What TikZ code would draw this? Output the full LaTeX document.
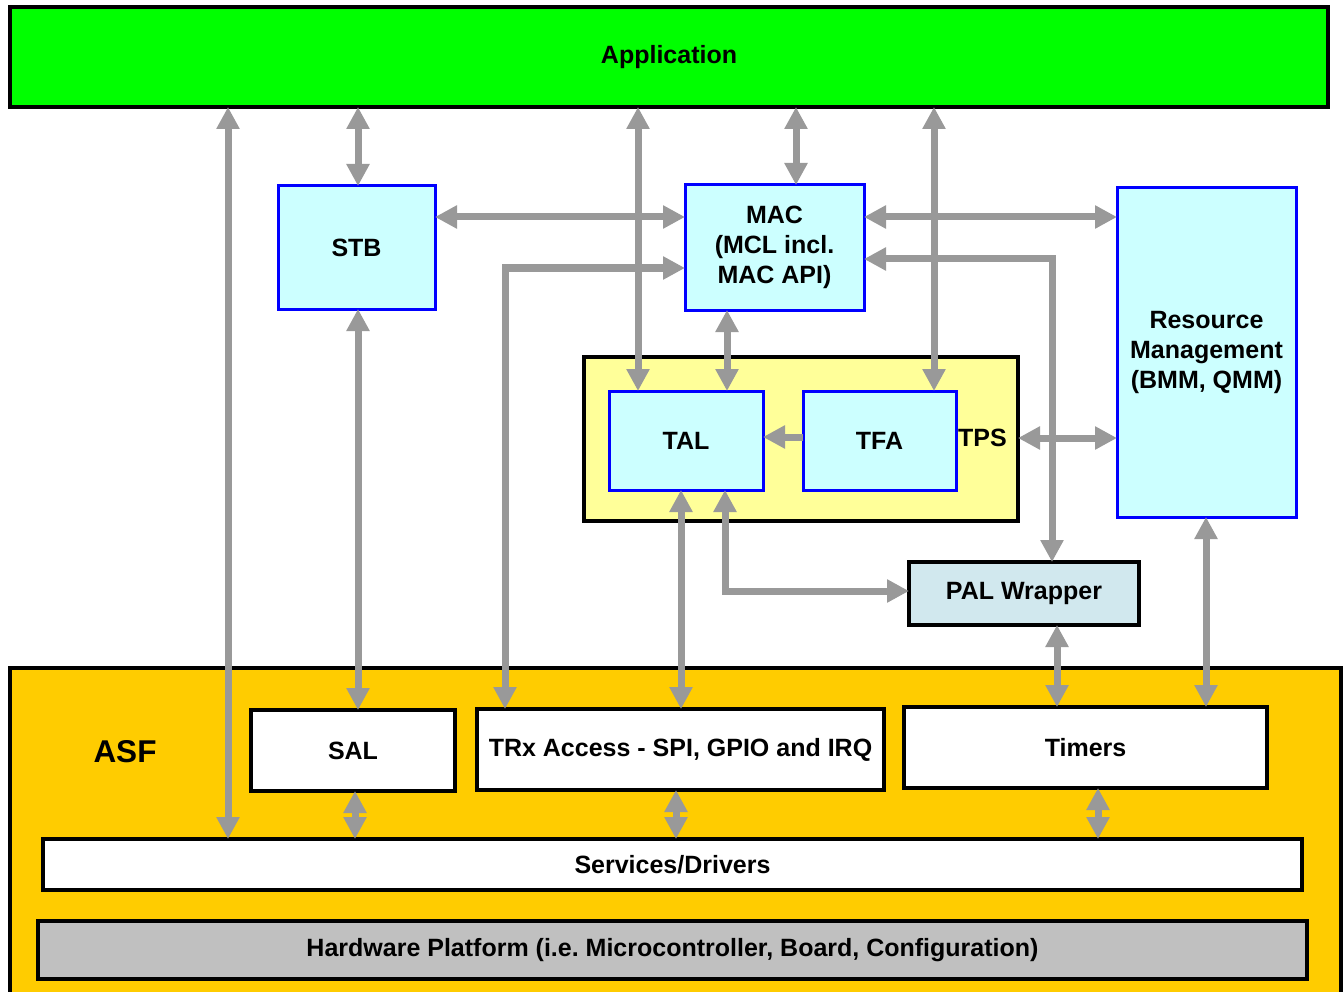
\documentclass[tikz,border=0pt]{standalone}
\usepackage{fontspec}
\setmainfont{Liberation Sans}
\usetikzlibrary{arrows.meta}
\definecolor{appgreen}{RGB}{0,255,0}
\definecolor{boxcyan}{RGB}{204,255,255}
\definecolor{tpsyellow}{RGB}{255,255,153}
\definecolor{palblue}{RGB}{209,232,238}
\definecolor{asfgold}{RGB}{255,204,0}
\definecolor{hwgray}{RGB}{192,192,192}
\definecolor{arrgray}{RGB}{153,153,153}
\definecolor{bluebord}{RGB}{0,0,255}
\tikzset{
  lbl/.style={font=\fontsize{25}{30}\selectfont\bfseries\frenchspacing, align=center, inner sep=0pt},
  blk/.style={lbl, draw=black, line width=3.5pt, outer sep=0pt},
  bluebox/.style={lbl, draw=bluebord, fill=boxcyan, line width=3pt, outer sep=0pt},
  darr/.style={draw=arrgray, line width=7pt, {Triangle[width=22pt,length=22pt]}-{Triangle[width=22pt,length=22pt]}},
  sarr/.style={draw=arrgray, line width=7pt, -{Triangle[width=22pt,length=22pt]}},
}
\begin{document}
\begin{tikzpicture}[x=1pt,y=-1pt]
\useasboundingbox (0,0) rectangle (1343,992);
\fill[white] (0,0) rectangle (1343,992);
% big boxes
\node[blk, fill=appgreen, minimum width=1318pt, minimum height=100pt] (app) at (669,57) {\raisebox{-2pt}{Application}};
\draw[black, line width=3.5pt, fill=asfgold] (10,668) rectangle (1341,1010);
\node[lbl, font=\fontsize{31.5}{36}\selectfont\bfseries] (asf) at (125,752) {ASF};
\node[blk, fill=tpsyellow, minimum width=434pt, minimum height=164pt] (tps) at (801,439) {};
\node[lbl, anchor=west] (tpsl) at (958,438) {TPS};
% blue boxes
\node[bluebox, minimum width=157pt, minimum height=123pt] (stb) at (356.5,247.5) {STB};
\node[bluebox, minimum width=179pt, minimum height=125pt] (mac) at (774.5,247.5) {MAC\\(MCL incl.\\MAC API)};
\node[bluebox, minimum width=179pt, minimum height=329pt] (rm) at (1206.5,352.5) {Resource\\Management\\(BMM, QMM)};
\node[bluebox, minimum width=154pt, minimum height=99pt] (tal) at (686,440.5) {TAL};
\node[bluebox, minimum width=153pt, minimum height=99pt] (tfa) at (879.5,440.5) {TFA};
\node[blk, fill=palblue, minimum width=230pt, minimum height=63pt] (pal) at (1024,593.5) {PAL Wrapper};
% ASF inner boxes
\node[blk, fill=white, minimum width=204pt, minimum height=81pt] (sal) at (353,750.5) {SAL};
\node[blk, fill=white, minimum width=407pt, minimum height=81pt] (trx) at (680.5,749.5) {TRx Access - SPI, GPIO and IRQ};
\node[blk, fill=white, minimum width=363pt, minimum height=81pt] (tim) at (1085.5,747.5) {Timers};
\node[blk, fill=white, minimum width=1259pt, minimum height=51pt] (serv) at (672.5,864.5) {Services/Drivers};
\node[blk, fill=hwgray, minimum width=1269pt, minimum height=58pt] (hw) at (672.5,950) {Hardware Platform (i.e. Microcontroller, Board, Configuration)};
% column / row helpers
\coordinate (xA) at (228,0);
\coordinate (xB) at (358,0);
\coordinate (xC) at (638,0);
\coordinate (xD) at (796,0);
\coordinate (xE) at (934,0);
\coordinate (xF) at (505,0);
\coordinate (xG) at (1052,0);
\coordinate (xH) at (727,0);
\coordinate (xI) at (681,0);
\coordinate (xJ) at (725,0);
\coordinate (xK) at (1057,0);
\coordinate (xL) at (1206,0);
\coordinate (xM) at (355,0);
\coordinate (xN) at (676,0);
\coordinate (xO) at (1098,0);
\coordinate (yA) at (0,217);
\coordinate (yB) at (0,268);
\coordinate (yC) at (0,259);
\coordinate (yD) at (0,437);
\coordinate (yE) at (0,591);
\coordinate (yF) at (0,438);
% connectors
\draw[darr] (app.south -| xA) -- (serv.north -| xA);
\draw[darr] (app.south -| xB) -- (stb.north -| xB);
\draw[darr] (stb.south -| xB) -- (sal.north -| xB);
\draw[darr] (app.south -| xC) -- (tal.north -| xC);
\draw[darr] (app.south -| xD) -- (mac.north -| xD);
\draw[darr] (app.south -| xE) -- (tfa.north -| xE);
\draw[darr] (stb.east |- yA) -- (mac.west |- yA);
\draw[darr] (mac.east |- yA) -- (rm.west |- yA);
\draw[darr] (trx.north -| xF) |- (mac.west |- yB);
\draw[darr] (mac.east |- yC) -| (pal.north -| xG);
\draw[darr] (mac.south -| xH) -- (tal.north -| xH);
\draw[sarr] (tfa.west |- yD) -- (tal.east |- yD);
\draw[darr] (tps.east |- yF) -- (rm.west |- yF);
\draw[darr] (tal.south -| xI) -- (trx.north -| xI);
\draw[darr] (tal.south -| xJ) |- (pal.west |- yE);
\draw[darr] (pal.south -| xK) -- (tim.north -| xK);
\draw[darr] (rm.south -| xL) -- (tim.north -| xL);
\draw[darr] (sal.south -| xM) -- (serv.north -| xM);
\draw[darr] (trx.south -| xN) -- (serv.north -| xN);
\draw[darr] (tim.south -| xO) -- (serv.north -| xO);
\end{tikzpicture}
\end{document}
